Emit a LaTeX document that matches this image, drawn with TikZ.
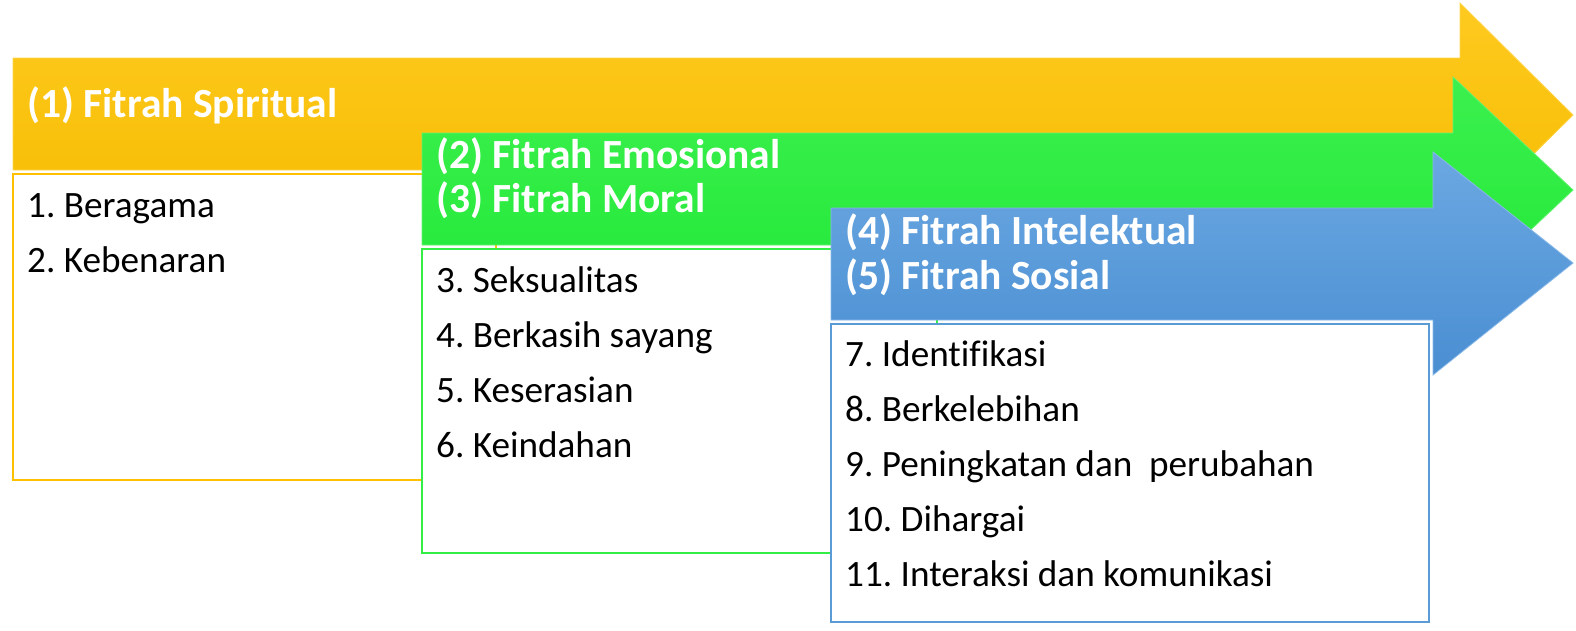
\documentclass[tikz,border=0pt]{standalone}
\usepackage{fontspec}
\setmainfont{Carlito}[Ligatures=NoCommon]
\frenchspacing
\definecolor{orTop}{HTML}{FFCA20}
\definecolor{orBot}{HTML}{F5BC00}
\definecolor{orLine}{HTML}{FFC000}
\definecolor{grTop}{HTML}{3CF04E}
\definecolor{grBot}{HTML}{22E838}
\definecolor{grLine}{HTML}{33EE44}
\definecolor{blTop}{HTML}{6BA8E2}
\definecolor{blBot}{HTML}{4A8ED2}
\definecolor{blLine}{HTML}{5B9BD5}
\begin{document}
\begin{tikzpicture}[x=1pt,y=-1pt,
  head/.style={text=white,font=\fontsize{41.5}{48}\selectfont\bfseries,anchor=base west,inner sep=0pt},
  item/.style={text=black,font=\fontsize{37.2}{44}\selectfont,anchor=base west,inner sep=0pt},
  listbox/.style={fill=white,line width=1.5pt}]
\useasboundingbox (0,0) rectangle (1576,630);
% orange arrow
\shade[top color=orTop,bottom color=orBot,draw=orTop!80!white,line width=0.8pt]
  (13,58) -- (1460,58) -- (1460,3) -- (1573,115) -- (1460,227) -- (1460,170) -- (13,170) -- cycle;
\draw[listbox,draw=orLine] (13,174) rectangle (496,480);
% green arrow
\shade[top color=grTop,bottom color=grBot,draw=grTop!80!white,line width=0.8pt]
  (422,133) -- (1453,133) -- (1453,77) -- (1573,190) -- (1453,303) -- (1453,245) -- (422,245) -- cycle;
\draw[listbox,draw=grLine] (422,249) rectangle (937,553);
% blue arrow
\shade[top color=blTop,bottom color=blBot,draw=blTop!80!white,line width=0.8pt]
  (831,208) -- (1433,208) -- (1433,152) -- (1573,263) -- (1433,375) -- (1433,320) -- (831,320) -- cycle;
\draw[listbox,draw=blLine] (831,324) rectangle (1429,622);
% headings
\node[head] (h1) at (27,117) {(1) Fitrah Spiritual};
\node[head] (h2) at (436,168) {(2) Fitrah Emosional};
\node[head] (h3) at (436,212) {(3) Fitrah Moral};
\node[head] (h4) at (845,244) {(4) Fitrah Intelektual};
\node[head] (h5) at (845,289) {(5) Fitrah Sosial};
% items
\node[item] (i1) at (27,217) {1. Beragama};
\node[item] (i2) at (27,272) {2. Kebenaran};
\node[item] (i3) at (436,292) {3. Seksualitas};
\node[item] (i4) at (436,347) {4. Berkasih sayang};
\node[item] (i5) at (436,402) {5. Keserasian};
\node[item] (i6) at (436,457) {6. Keindahan};
\node[item] (i7) at (845,366) {7. Identifikasi};
\node[item] (i8) at (845,421) {8. Berkelebihan};
\node[item] (i9) at (845,476) {9. Peningkatan dan\ \ perubahan};
\node[item] (i10) at (845,531) {10. Dihargai};
\node[item] (i11) at (845,586) {11. Interaksi dan komunikasi};
\end{tikzpicture}
\end{document}
